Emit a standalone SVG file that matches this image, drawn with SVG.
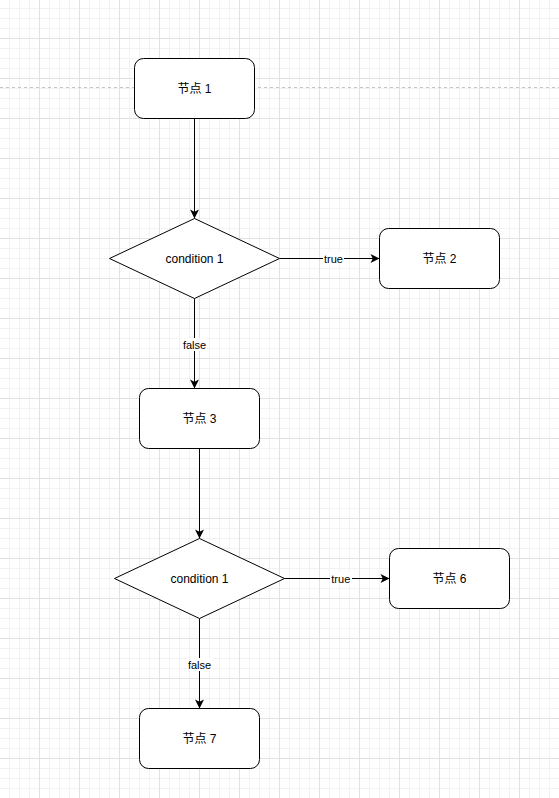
<svg xmlns="http://www.w3.org/2000/svg" width="559" height="798" viewBox="0 0 559 798">
<defs>
<pattern id="grid" patternUnits="userSpaceOnUse" x="0" y="-1" width="40" height="40">
<path d="M9.5,0V40M19.5,0V40M29.5,0V40M0,9.5H40M0,19.5H40M0,29.5H40" stroke="#f2f2f2" stroke-width="1" fill="none"/>
<path d="M39.5,0V40M0,39.5H40" stroke="#e2e2e2" stroke-width="1" fill="none"/>
</pattern>
<marker id="arrow" markerUnits="userSpaceOnUse" markerWidth="11" markerHeight="10" refX="10" refY="5" orient="auto">
<path d="M10,5 L1,0.5 L3.25,5 L1,9.5 Z" fill="#000"/>
</marker>
<style>
.node rect, .node polygon { fill:#fff; stroke:#000; stroke-width:1; }
.node text { font-family:"Liberation Sans","Noto Sans CJK SC",sans-serif; font-size:12px; fill:#000; text-anchor:middle; }
.edge { stroke:#000; stroke-width:1; fill:none; marker-end:url(#arrow); }
.lbl-bg { fill:#fff; }
.lbl { font-family:"Liberation Sans",sans-serif; font-size:11px; fill:#000; text-anchor:middle; }
</style>
</defs>
<rect x="0" y="0" width="559" height="798" fill="#fff"/>
<rect x="0" y="0" width="559" height="798" fill="url(#grid)"/>
<line x1="0" y1="87.5" x2="559" y2="87.5" stroke="#c4c4c4" stroke-width="1" stroke-dasharray="3,3"/>

<g id="connectors">
<path class="edge" d="M194.5,118.5 V218.5"/>
<path class="edge" d="M279.5,258.5 H379.5"/>
<path class="edge" d="M194.5,298.5 V388.5"/>
<path class="edge" d="M199.5,448.5 V538.5"/>
<path class="edge" d="M284.5,578.5 H389.5"/>
<path class="edge" d="M199.5,618.5 V708.5"/>
<rect class="lbl-bg" x="323" y="252" width="21" height="13"/>
<text class="lbl" x="333.5" y="262.7">true</text>
<rect class="lbl-bg" x="182" y="338" width="25" height="13"/>
<text class="lbl" x="194.5" y="348.7">false</text>
<rect class="lbl-bg" x="330" y="572" width="22" height="13"/>
<text class="lbl" x="340.8" y="582.7">true</text>
<rect class="lbl-bg" x="187" y="658" width="25" height="13"/>
<text class="lbl" x="199.5" y="668.7">false</text>
</g>

<g id="node1" class="node">
<rect x="134.5" y="58.5" width="120" height="60" rx="9" ry="9"/>
<text x="194.5" y="92.8">节点 1</text>
</g>
<g id="cond1" class="node">
<polygon points="194.5,218.5 279.5,258.5 194.5,298.5 109.5,258.5"/>
<text x="194.5" y="262.8">condition 1</text>
</g>
<g id="node2" class="node">
<rect x="379.5" y="228.5" width="120" height="60" rx="9" ry="9"/>
<text x="439.5" y="262.8">节点 2</text>
</g>
<g id="node3" class="node">
<rect x="139.5" y="388.5" width="120" height="60" rx="9" ry="9"/>
<text x="199.5" y="422.8">节点 3</text>
</g>
<g id="cond2" class="node">
<polygon points="199.5,538.5 284.5,578.5 199.5,618.5 114.5,578.5"/>
<text x="199.5" y="582.8">condition 1</text>
</g>
<g id="node6" class="node">
<rect x="389.5" y="548.5" width="120" height="60" rx="9" ry="9"/>
<text x="449.5" y="582.8">节点 6</text>
</g>
<g id="node7" class="node">
<rect x="139.5" y="708.5" width="120" height="60" rx="9" ry="9"/>
<text x="199.5" y="742.8">节点 7</text>
</g>
</svg>
